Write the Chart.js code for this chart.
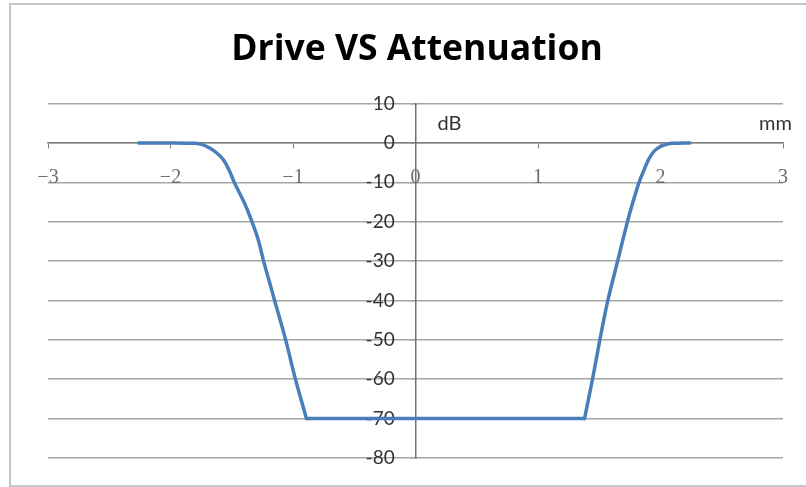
<!DOCTYPE html>
<html>
<head>
<meta charset="utf-8">
<script src="https://cdn.jsdelivr.net/npm/chart.js@4.4.1/dist/chart.umd.min.js"></script>
<style>
  html, body { margin: 0; padding: 0; background: #fff; }
  #wrap { position: relative; width: 806px; height: 487px; overflow: hidden; }
  #frame { position: absolute; left: 9px; top: 3px; width: 830px; height: 480px; border: 2px solid #c6c6c6; }
  canvas { position: absolute; left: 0; top: 0; }
</style>
</head>
<body>
<div id="wrap">
  <div id="frame"></div>
  <canvas id="myChart" width="806" height="487"></canvas>
</div>
<script>
// drive position (mm) and attenuation (dB)
// falling edge
const fallMm = [-2.26, -2.0, -1.80, -1.74, -1.68, -1.62, -1.57, -1.52, -1.48, -1.40, -1.335, -1.28, -1.24, -1.195, -1.15, -1.06, -0.98, -0.89];
const fallDb = [0, 0, -0.1, -0.4, -1.3, -2.6, -4.2, -7, -10, -15, -20, -25, -30, -35, -40, -50, -60, -70];
// flat bottom
const floorMm = [-0.89, 0, 1.38];
const floorDb = [-70, -70, -70];
// rising edge
const riseMm = [1.38, 1.445, 1.505, 1.57, 1.65, 1.73, 1.775, 1.825, 1.87, 1.91, 1.95, 2.0, 2.05, 2.1, 2.24];
const riseDb = [-70, -60, -50, -40, -30, -20, -15, -10, -6.5, -3.8, -2, -0.9, -0.35, -0.1, 0];

// axis ticks
const xTicks = [-3, -2, -1, 0, 1, 2, 3];
const yTicks = [10, 0, -10, -20, -30, -40, -50, -60, -70, -80];

const toPoints = (xs, ys) => xs.map((v, i) => ({ x: v, y: ys[i] }));

function curve(xs, ys, tension) {
  return {
    data: toPoints(xs, ys),
    showLine: true,
    borderColor: '#4a7ebb',
    borderWidth: 3.5,
    pointRadius: 0,
    tension: tension,
    borderJoinStyle: 'round',
    borderCapStyle: 'round'
  };
}

const setTicks = list => axis => { axis.ticks = list.map(v => ({ value: v })); };

// "dB" and "mm" unit labels next to the axes
const unitLabels = {
  id: 'unitLabels',
  afterDraw(chart) {
    const { ctx, scales: { x, y } } = chart;
    ctx.save();
    ctx.font = '20px Lato';
    ctx.fillStyle = '#333';
    ctx.textBaseline = 'middle';
    ctx.textAlign = 'left';
    ctx.fillText('dB', x.getPixelForValue(0) + 22, y.getPixelForValue(5));
    ctx.textAlign = 'right';
    ctx.fillText('mm', x.right + 9, y.getPixelForValue(5));
    ctx.restore();
  }
};

const ctx = document.getElementById('myChart');

new Chart(ctx, {
  type: 'scatter',
  data: {
    datasets: [
      curve(fallMm, fallDb, 0.3),
      curve(floorMm, floorDb, 0),
      curve(riseMm, riseDb, 0.3)
    ]
  },
  options: {
    responsive: false,
    animation: false,
    devicePixelRatio: 1,
    layout: { padding: { left: 48, right: 20, top: 0, bottom: 29 } },
    plugins: {
      legend: { display: false },
      tooltip: { enabled: false },
      title: {
        display: true,
        text: 'Drive VS Attenuation',
        color: '#000',
        font: { family: "'Open Sans', sans-serif", size: 35.5, weight: 'bold' },
        padding: { top: 29, bottom: 32 }
      }
    },
    scales: {
      x: {
        type: 'linear',
        min: -3,
        max: 3,
        position: { y: 0 },
        afterBuildTicks: setTicks(xTicks),
        grid: { drawOnChartArea: false, drawTicks: true, tickLength: 5, color: '#808080' },
        border: { color: '#808080', width: 1.5 },
        ticks: {
          padding: 18,
          color: '#6b6b6b',
          font: { family: "'Liberation Serif', serif", size: 20 },
          callback: v => (v < 0 ? '\u2212' + Math.abs(v) : String(v))
        }
      },
      // axis line and gridlines at x = 0
      y: {
        type: 'linear',
        min: -80,
        max: 10,
        position: { x: 0 },
        afterBuildTicks: setTicks(yTicks),
        grid: { color: '#a6a6a6', lineWidth: 1.5, tickLength: 5 },
        border: { color: '#707070', width: 1.5 },
        ticks: { display: false, padding: 0 }
      },
      // tick labels, set a little left of the axis line
      yLabels: {
        type: 'linear',
        axis: 'y',
        min: -80,
        max: 10,
        position: { x: -0.17 },
        afterBuildTicks: setTicks(yTicks),
        grid: { display: false },
        border: { display: false },
        ticks: {
          padding: 0,
          color: '#333',
          font: { family: 'Lato', size: 19 }
        }
      }
    }
  },
  plugins: [unitLabels]
});
</script>
</body>
</html>
